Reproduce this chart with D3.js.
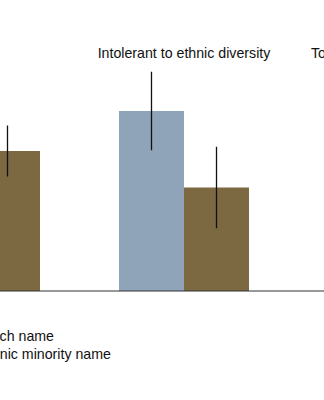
<!DOCTYPE html>
<html>
<head>
<meta charset="utf-8">
<script src="https://cdn.jsdelivr.net/npm/d3@7"></script>
<style>
  html, body { margin: 0; padding: 0; background: #fff; }
  svg { display: block; font-family: "Liberation Sans", Arial, Helvetica, sans-serif; }
</style>
</head>
<body>
<svg id="chart" width="324" height="400"></svg>
<script>
// Panels (attitude groups) and the two name conditions
const panels = ["Total", "Intolerant to ethnic diversity", "Tolerant to ethnic diversity"];
const conditions = ["Dutch name", "Ethnic minority name"];

// Mean scores per panel, one array per condition
const dutchValues = [0.62, 0.72, 0.60];
const minorityValues = [0.56, 0.414, 0.58];

// Half-widths of the error bars
const dutchErr = [0.11, 0.157, 0.12];
const minorityErr = [0.102, 0.163, 0.12];

const colors = { "Dutch name": "#8fa4b9", "Ethnic minority name": "#7c6942" };
const fontSize = 14.2;

const svg = d3.select("#chart");

const x0 = d3.scaleBand().domain(panels).range([-129.5, 497.5]).padding(0);
const x1 = d3.scaleBand().domain(conditions).range([39.5, 169.5]).padding(0);
const y = d3.scaleLinear().domain([0, 1]).range([291, 41]);

const rows = panels.map((p, i) => ({
  panel: p,
  bars: [
    { cond: conditions[0], v: dutchValues[i], e: dutchErr[i] },
    { cond: conditions[1], v: minorityValues[i], e: minorityErr[i] }
  ]
}));

const g = svg.append("g");

const panel = g.selectAll("g.panel").data(rows).join("g")
  .attr("class", "panel")
  .attr("transform", d => `translate(${x0(d.panel)},0)`);

panel.selectAll("rect").data(d => d.bars).join("rect")
  .attr("x", d => x1(d.cond))
  .attr("width", x1.bandwidth())
  .attr("y", d => y(d.v))
  .attr("height", d => y(0) - y(d.v))
  .attr("fill", d => colors[d.cond]);

panel.selectAll("line.err").data(d => d.bars).join("line")
  .attr("class", "err")
  .attr("x1", d => x1(d.cond) + x1.bandwidth() / 2)
  .attr("x2", d => x1(d.cond) + x1.bandwidth() / 2)
  .attr("y1", d => y(d.v + d.e))
  .attr("y2", d => y(d.v - d.e))
  .attr("stroke", "#111")
  .attr("stroke-width", 1.3);

panel.filter(d => d.panel !== "Total").append("text")
  .attr("x", x0.bandwidth() / 2)
  .attr("y", 58)
  .attr("text-anchor", "middle")
  .attr("font-size", fontSize)
  .attr("fill", "#111")
  .text(d => d.panel);

// Baseline across all panels
g.append("line")
  .attr("x1", -200).attr("x2", 600)
  .attr("y1", y(0)).attr("y2", y(0))
  .attr("stroke", "#333")
  .attr("stroke-width", 1.2);

// Legend
const legend = g.append("g").attr("transform", "translate(-22.5,0)");
const item = legend.selectAll("g").data(conditions).join("g")
  .attr("transform", (d, i) => `translate(${i ? 1 : 0},${341 + i * 18})`);
item.append("rect")
  .attr("x", -22).attr("y", -10).attr("width", 14).attr("height", 11)
  .attr("fill", d => colors[d]);
item.append("text")
  .attr("x", 0).attr("y", 0)
  .attr("font-size", fontSize)
  .attr("fill", "#111")
  .text(d => d);
</script>
</body>
</html>
